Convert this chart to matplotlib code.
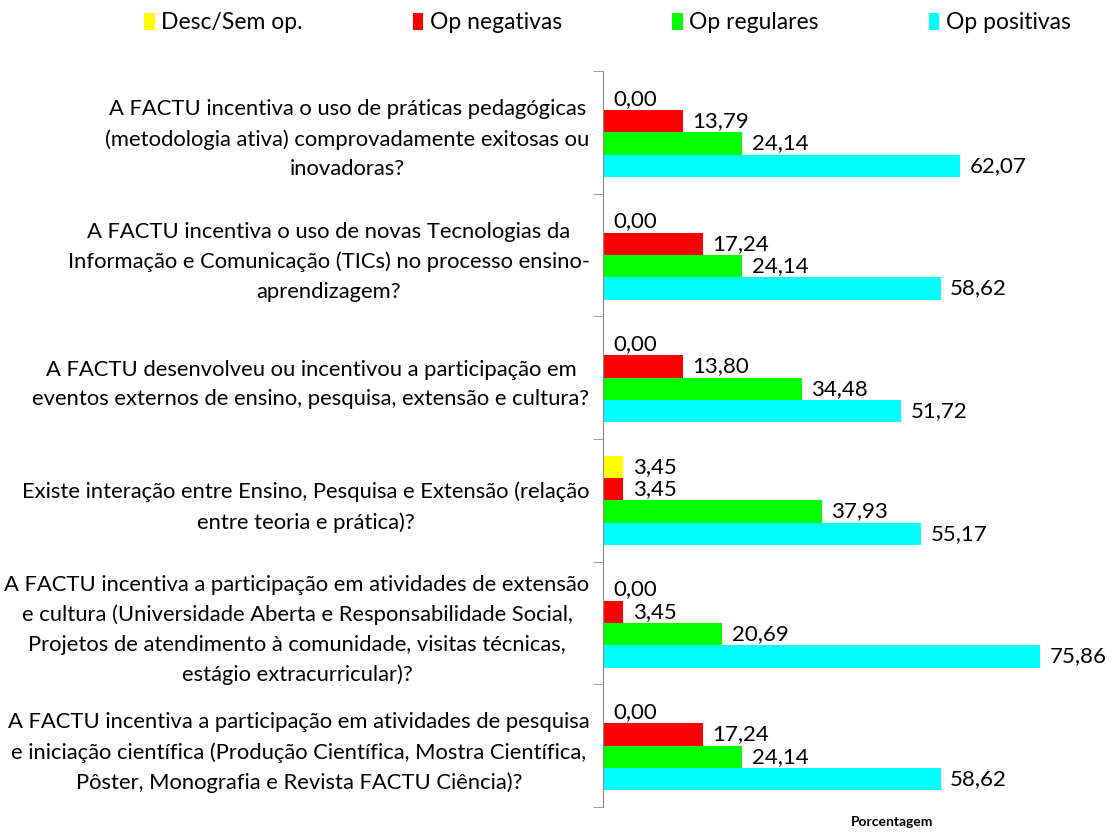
import matplotlib.pyplot as plt
import numpy as np

plt.rcParams['font.family'] = ['Lato', 'DejaVu Sans']

perguntas = [
    "A FACTU incentiva o uso de práticas pedagógicas\n(metodologia ativa) comprovadamente exitosas ou\ninovadoras?",
    "A FACTU incentiva o uso de novas Tecnologias da\nInformação e Comunicação (TICs) no processo ensino-\naprendizagem?",
    "A FACTU desenvolveu ou incentivou a participação em\neventos externos de ensino, pesquisa, extensão e cultura?",
    "Existe interação entre Ensino, Pesquisa e Extensão (relação\nentre teoria e prática)?",
    "A FACTU incentiva a participação em atividades de extensão\ne cultura (Universidade Aberta e Responsabilidade Social,\nProjetos de atendimento à comunidade, visitas técnicas,\nestágio extracurricular)?",
    "A FACTU incentiva a participação em atividades de pesquisa\ne iniciação científica (Produção Científica, Mostra Científica,\nPôster, Monografia e Revista FACTU Ciência)?",
]

desc_sem_op = [0.00, 0.00, 0.00, 3.45, 0.00, 0.00]
op_negativas = [13.79, 17.24, 13.80, 3.45, 3.45, 17.24]
op_regulares = [24.14, 24.14, 34.48, 37.93, 20.69, 24.14]
op_positivas = [62.07, 58.62, 51.72, 55.17, 75.86, 58.62]

series = [
    ("Desc/Sem op.", desc_sem_op, "#ffff00"),
    ("Op negativas", op_negativas, "#ff0000"),
    ("Op regulares", op_regulares, "#00ff00"),
    ("Op positivas", op_positivas, "#00ffff"),
]

fig = plt.figure(figsize=(11.19, 8.32), dpi=100)
ax = fig.add_axes([0.5393, 0.030, 0.4607, 0.8847])

y = np.arange(len(perguntas))
h = 0.182
for k, (nome, vals, cor) in enumerate(series):
    pos = y + (k - 1.5) * h
    bars = ax.barh(pos, vals, height=h, color=cor, label=nome, edgecolor='none')
    labels = [f"{v:.2f}".replace('.', ',') for v in vals]
    ax.bar_label(bars, labels=labels, padding=7, fontsize=16, color='black')

ax.set_xlim(0, 89.65)
ax.set_ylim(len(perguntas) - 0.5, -0.5)

ax.set_yticks(y)
ax.set_yticklabels(perguntas, fontsize=15.8, multialignment='center', linespacing=1.6)
ax.set_yticks(np.arange(-0.5, len(perguntas)), minor=True)
ax.tick_params(axis='y', which='major', length=0, pad=10)
ax.tick_params(axis='y', which='minor', length=7, color='#898989', direction='out')
ax.set_xticks([])

for s in ['top', 'right', 'bottom']:
    ax.spines[s].set_visible(False)
ax.spines['left'].set_color('#898989')

ax.set_xlabel("Porcentagem", fontsize=10, fontweight='bold')
ax.xaxis.set_label_coords(0.56, -0.012)

fig.legend(loc='upper center', bbox_to_anchor=(0.543, 1.01), ncol=4, frameon=False,
           fontsize=16.5, handlelength=0.45, handleheight=0.8, handletextpad=0.3,
           columnspacing=4.8)

fig.savefig("out.png", dpi=100)
